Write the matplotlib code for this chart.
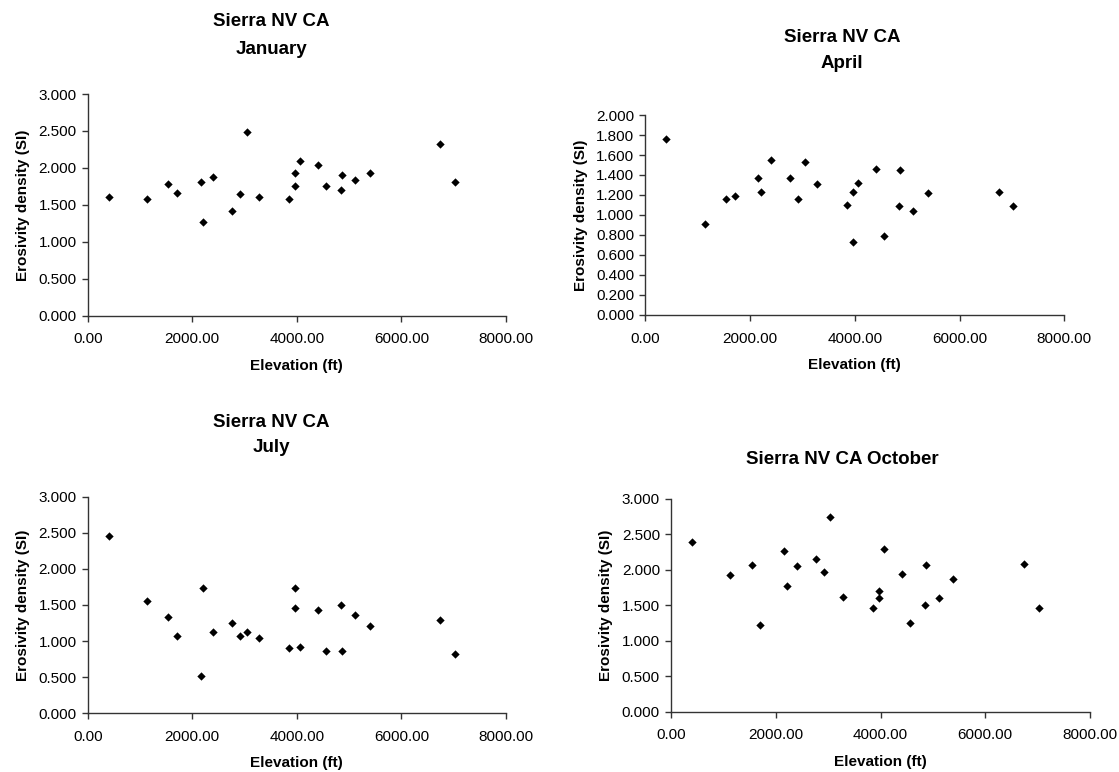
import matplotlib.pyplot as plt
import numpy as np
from matplotlib.ticker import FormatStrFormatter

plt.rcParams['font.family'] = ['Liberation Sans', 'DejaVu Sans']

# station elevations (ft), same for each month
elevation = [400, 1135, 1543, 1708, 2161, 2206, 2397, 2760, 2920, 3041, 3283,
             3857, 3971, 3971, 4060, 4405, 4564, 4845, 4864, 5119, 5393,
             6744, 7018]

# erosivity density (SI) per month
january = [1.611, 1.574, 1.786, 1.656, 1.805, 1.268, 1.881, 1.417, 1.642,
           2.481, 1.611, 1.574, 1.750, 1.931, 2.093, 2.044, 1.755, 1.705,
           1.899, 1.832, 1.931, 2.319, 1.805]
april = [1.760, 0.913, 1.163, 1.187, 1.367, 1.233, 1.547, 1.367, 1.163,
         1.533, 1.307, 1.103, 1.233, 0.733, 1.317, 1.460, 0.793, 1.090,
         1.450, 1.043, 1.223, 1.233, 1.090]
july = [2.455, 1.560, 1.329, 1.066, 0.517, 1.731, 1.131, 1.251, 1.066,
        1.131, 1.048, 0.900, 1.731, 1.463, 0.914, 1.426, 0.868, 1.495,
        0.868, 1.362, 1.214, 1.297, 0.817]
october = [2.393, 1.923, 2.074, 1.227, 2.262, 1.768, 2.060, 2.158, 1.970,
           2.751, 1.618, 1.467, 1.707, 1.599, 2.295, 1.937, 1.246, 1.500,
           2.074, 1.603, 1.871, 2.088, 1.467]

W, H = 1119, 772
fig = plt.figure(figsize=(W / 100, H / 100), dpi=100)


def px_axes(left, top, right, bottom):
    return fig.add_axes([left / W, 1 - bottom / H, (right - left) / W, (bottom - top) / H])


def style(ax, y, ymax, ystep):
    ax.scatter(elevation, y, marker='D', s=18, color='black', zorder=3, linewidths=0)
    ax.set_xlim(0, 8000)
    ax.set_ylim(0, ymax)
    ax.set_xticks(np.arange(0, 8001, 2000))
    ax.set_yticks(np.arange(0, ymax + 1e-9, ystep))
    ax.xaxis.set_major_formatter(FormatStrFormatter('%.2f'))
    ax.yaxis.set_major_formatter(FormatStrFormatter('%.3f'))
    for s in ['top', 'right']:
        ax.spines[s].set_visible(False)
    for s in ['left', 'bottom']:
        ax.spines[s].set_color('#333333')
        ax.spines[s].set_linewidth(1)
    ax.tick_params(axis='both', direction='out', length=4, width=1, color='#333333', labelsize=11)
    ax.tick_params(axis='x', pad=8)
    ax.tick_params(axis='y', pad=4)
    ax.set_xlabel('Elevation (ft)', fontsize=11, fontweight='bold', labelpad=9)
    ax.set_ylabel('Erosivity density (SI)', fontsize=11, fontweight='bold', labelpad=6)


ax1 = px_axes(87.7, 94, 506, 315.7)
style(ax1, january, 3.0, 0.5)
ax2 = px_axes(645.3, 115, 1064.3, 315)
style(ax2, april, 2.0, 0.2)
ax3 = px_axes(87.7, 496.7, 506, 713.3)
style(ax3, july, 3.0, 0.5)
ax4 = px_axes(671, 499, 1090, 711.7)
style(ax4, october, 3.0, 0.5)

tkw = dict(fontsize=13.5, fontweight='bold', ha='center', va='center')
fig.text(271 / W, 1 - 22 / H, 'Sierra NV CA', **tkw)
fig.text(271 / W, 1 - 49 / H, 'January', **tkw)
fig.text(842 / W, 1 - 38 / H, 'Sierra NV CA', **tkw)
fig.text(842 / W, 1 - 64 / H, 'April', **tkw)
fig.text(271 / W, 1 - 422 / H, 'Sierra NV CA', **tkw)
fig.text(271 / W, 1 - 448 / H, 'July', **tkw)
fig.text(842 / W, 1 - 460 / H, 'Sierra NV CA October', **tkw)

fig.savefig('out.png', dpi=100)
